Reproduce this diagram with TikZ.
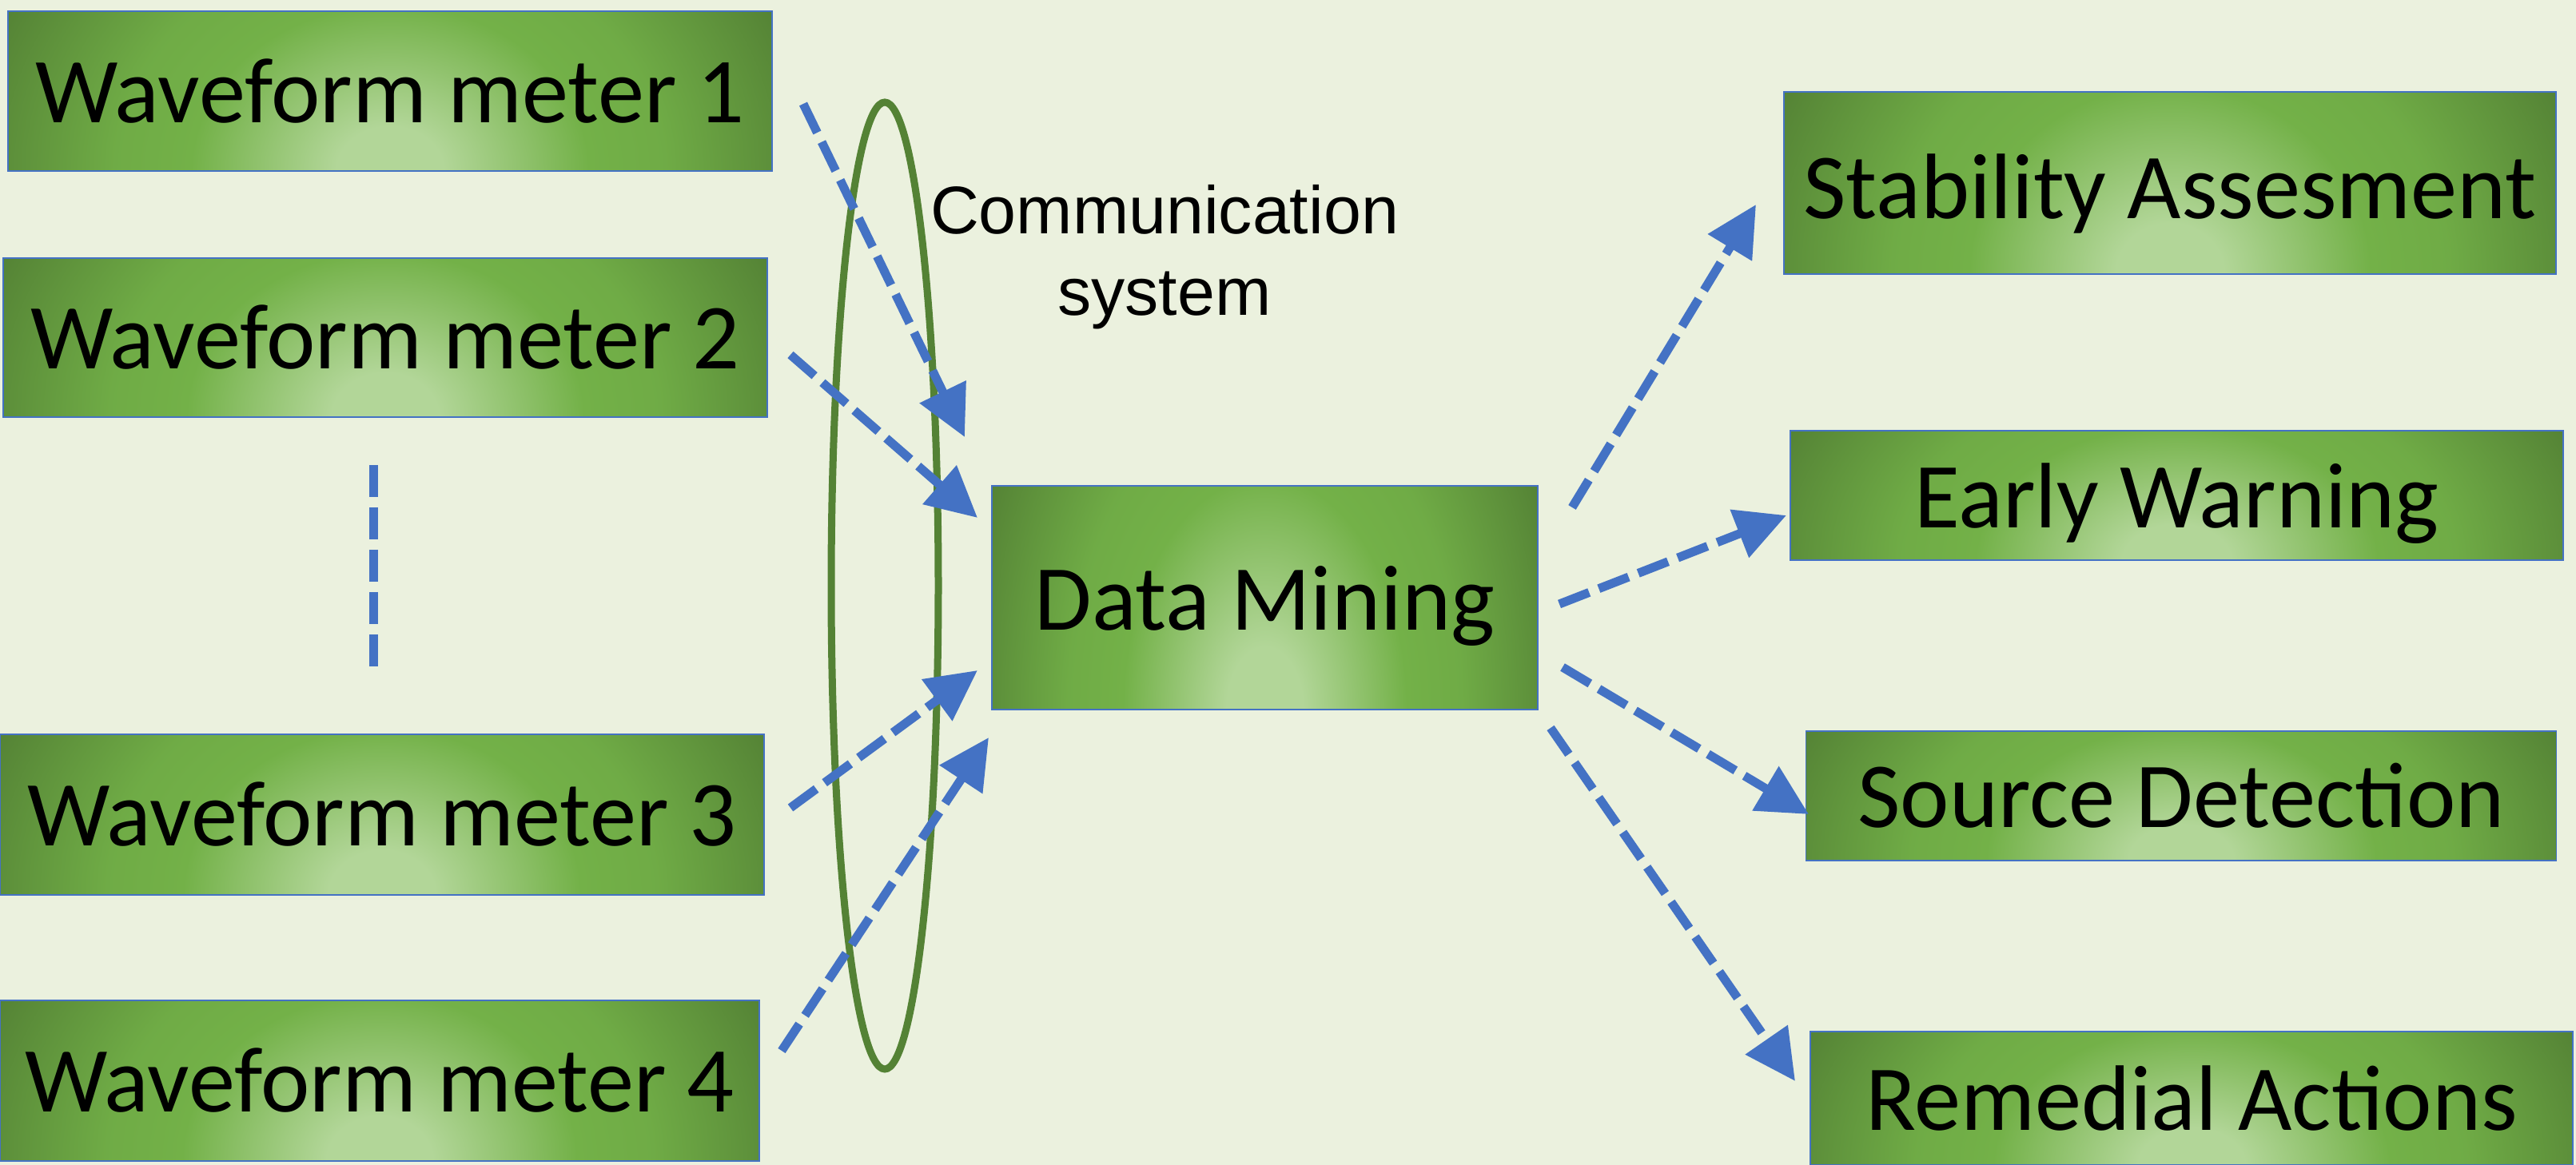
\documentclass[tikz,border=0pt]{standalone}
\usepackage{fontspec}
\setmainfont{Carlito}
\newfontfamily\labelfont{Liberation Sans}
\usetikzlibrary{arrows.meta,calc}

\definecolor{paper}{RGB}{235,241,222}
\definecolor{edgeblue}{RGB}{68,114,196}
\definecolor{ringgreen}{RGB}{84,130,53}
\definecolor{glowlight}{RGB}{178,214,152}
\definecolor{glowmid}{RGB}{115,177,72}
\definecolor{glowdark}{RGB}{68,106,43}

\pgfdeclareradialshading{meterglow}{\pgfpointorigin}{color(0bp)=(glowlight); color(3.5bp)=(glowlight); color(13bp)=(glowmid); color(18bp)=(glowmid!92!glowdark); color(28bp)=(glowmid!35!glowdark); color(35bp)=(glowdark); color(50bp)=(glowdark)}

\tikzset{
  meter/.style={draw=edgeblue, line width=0.5pt, inner sep=0pt,
    font=\fontsize{33.1}{38}\selectfont,
    path picture={\shade[shading=meterglow] let \p1=(path picture bounding box.south west), \p2=(path picture bounding box.north east) in (\x1,{3*\y1-2*\y2}) rectangle (\x2,{2*\y2-\y1});}},
  flow/.style={draw=edgeblue, line width=0.11cm, dash pattern=on 0.4cm off 0.13cm},
  ring/.style={draw=ringgreen, line width=0.09cm}
}

\begin{document}
\begin{tikzpicture}[>={Triangle[length=0.63cm,width=0.62cm]}]
\fill[paper] (0,0) rectangle (32.23,14.58);
\useasboundingbox (0,0) rectangle (32.23,14.58);

% meters
\node[meter, minimum width=9.56cm, minimum height=2cm] (wm1) at (4.88,13.44) {Waveform meter 1};
\node[meter, minimum width=9.56cm, minimum height=1.99cm] (wm2) at (4.82,10.355) {Waveform meter 2};
\node[meter, minimum width=9.56cm, minimum height=2.01cm] (wm3) at (4.78,4.385) {Waveform meter 3};
\node[meter, minimum width=9.5cm, minimum height=2.01cm] (wm4) at (4.75,1.055) {Waveform meter 4};

\node[meter, minimum width=6.83cm, minimum height=2.8cm] (mining) at (15.825,7.1) {\raisebox{-0.1cm}[\height][\depth]{Data Mining}};

% results
\node[meter, minimum width=9.66cm, minimum height=2.28cm] (stab) at (27.15,12.29) {\raisebox{-0.14cm}[\height][\depth]{Stability Assesment}};
\node[meter, minimum width=9.67cm, minimum height=1.62cm] (warn) at (27.235,8.38) {\raisebox{-0.1cm}[\height][\depth]{Early Warning}};
\node[meter, minimum width=9.39cm, minimum height=1.62cm] (source) at (27.29,4.62) {Source Detection};
\node[meter, minimum width=9.54cm, minimum height=1.67cm] (remedy) at (27.42,0.835) {Remedial Actions};

% communication ring
\draw[ring] (11.07,7.25) ellipse (0.67 and 6.05);
\node[font=\labelfont\fontsize{24}{29}\selectfont, align=center] (comm) at (14.57,11.36) {Communication\\system};

\coordinate (dotstop) at (4.67,8.76);
\coordinate (dotsbot) at (4.67,6.17);
\draw[flow] (dotstop) -- (dotsbot);

% end points of the links
\coordinate (out1) at (10.05,13.28); \coordinate (in1) at (12.07,9.11);
\coordinate (out2) at (9.89,10.14);  \coordinate (in2) at (12.23,8.10);
\coordinate (out3) at (9.89,4.47);   \coordinate (in3) at (12.23,6.19);
\coordinate (out4) at (9.78,1.43);   \coordinate (in4) at (12.37,5.35);
\coordinate (to1) at (19.67,8.23);   \coordinate (at1) at (21.97,12.02);
\coordinate (to2) at (19.51,7.02);   \coordinate (at2) at (22.35,8.13);
\coordinate (to3) at (19.55,6.23);   \coordinate (at3) at (22.63,4.39);
\coordinate (to4) at (19.40,5.47);   \coordinate (at4) at (22.46,1.05);

\foreach \i in {1,...,4}{
  \draw[flow,->] (out\i) -- (in\i);
  \draw[flow,->] (to\i) -- (at\i);
}
\end{tikzpicture}
\end{document}
